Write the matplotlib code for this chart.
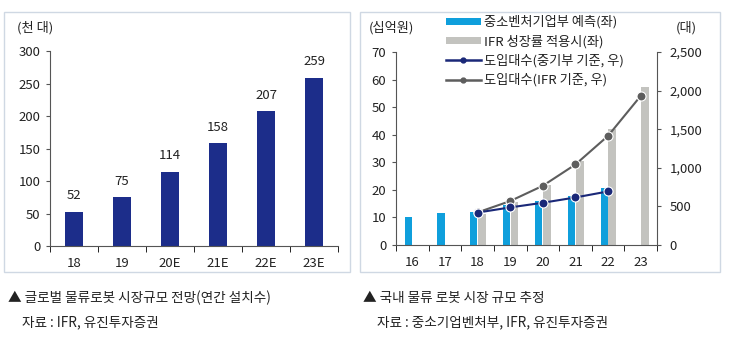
import numpy as np
import matplotlib
matplotlib.use("Agg")
import matplotlib.pyplot as plt
from matplotlib.patches import Rectangle, Patch
from matplotlib.lines import Line2D
from matplotlib.ticker import FuncFormatter

plt.rcParams['font.family'] = ['Noto Sans CJK KR', 'DejaVu Sans']
plt.rcParams['axes.unicode_minus'] = False

# left chart: global logistics robot installations (thousand units)
global_years = ['18', '19', '20E', '21E', '22E', '23E']
global_units = [52, 75, 114, 158, 207, 259]

# right chart: domestic market (KRW bn, left) and robot count (units, right)
kr_years = ['16', '17', '18', '19', '20', '21', '22', '23']
kr_mss = [10.1, 11.5, 12.0, 14.6, 15.8, 17.9, 20.6, np.nan]
kr_ifr = [np.nan, np.nan, 11.3, 15.5, 21.8, 30.5, 42.0, 57.4]
units_mss = [np.nan, np.nan, 420, 487, 547, 616, 694, np.nan]
units_ifr = [np.nan, np.nan, 422, 569, 767, 1043, 1414, 1931]

NAVY = '#1c2d8a'
SKY = '#0f9fdc'
GREY_BAR = '#c3c3bf'
NAVY_LINE = '#1a2878'
GREY_LINE = '#5d5d5d'
TXT = '#222222'
SPINE = '#555555'
FS = 9.5

fig = plt.figure(figsize=(7.3, 3.38), dpi=100)
W, H = 730, 338


def fx(px):
    return px / W


def fy(py):
    return 1 - py / H


# panel frames
for x0, x1 in [(4, 350), (360, 720)]:
    fig.patches.append(Rectangle((fx(x0), fy(272)), fx(x1 - x0), (272 - 12) / H,
                                 transform=fig.transFigure, fill=False,
                                 edgecolor='#cfd8e3', linewidth=1.0))


def style_axis(ax, spines):
    for s in ['left', 'right', 'top', 'bottom']:
        ax.spines[s].set_visible(s in spines)
        ax.spines[s].set_color(SPINE)
        ax.spines[s].set_linewidth(0.8)
    ax.tick_params(colors=SPINE, labelcolor=TXT, labelsize=FS, width=0.8)


# ---- left chart ----
ax1 = fig.add_axes([fx(50), fy(246), fx(338 - 50), (246 - 51) / H])
x1 = np.arange(len(global_years))
ax1.bar(x1, global_units, width=0.36, color=NAVY)
for xi, v in zip(x1, global_units):
    ax1.annotate(str(v), (xi, v), xytext=(0, 7), textcoords='offset points',
                 ha='center', va='bottom', fontsize=FS, color=TXT)
ax1.set_xlim(-0.5, len(global_years) - 0.5)
ax1.set_ylim(0, 300)
ax1.set_yticks(range(0, 301, 50))
ax1.set_xticks(x1)
ax1.set_xticklabels(global_years)
ax1.set_xticks(np.arange(-0.5, len(global_years)), minor=True)
style_axis(ax1, ['left', 'bottom'])
ax1.tick_params(axis='x', which='major', length=0, pad=8)
ax1.tick_params(axis='x', which='minor', length=4, direction='out')
ax1.tick_params(axis='y', length=3, direction='out', pad=4)
fig.text(fx(17), fy(28), '(천 대)', fontsize=FS, color=TXT, va='center')

# ---- right chart ----
ax2 = fig.add_axes([fx(396), fy(245), fx(657 - 396), (245 - 52) / H])
x2 = np.arange(len(kr_years))
ax2.bar(x2 - 0.12, kr_mss, width=0.22, color=SKY, zorder=2)
ax2.bar(x2 + 0.13, kr_ifr, width=0.24, color=GREY_BAR, zorder=1)
ax2.set_xlim(-0.5, len(kr_years) - 0.5)
ax2.set_ylim(0, 70)
ax2.set_yticks(range(0, 71, 10))
ax2.set_xticks(x2)
ax2.set_xticklabels(kr_years)
ax2.set_xticks(np.arange(-0.5, len(kr_years)), minor=True)
style_axis(ax2, ['left', 'bottom'])
ax2.tick_params(axis='x', which='major', length=0, pad=8)
ax2.tick_params(axis='x', which='minor', length=4, direction='out')
ax2.tick_params(axis='y', length=3, direction='out', pad=4)

ax3 = ax2.twinx()
ax3.plot(x2, units_ifr, color=GREY_LINE, lw=1.5, marker='o', ms=6.5,
         mfc=GREY_LINE, mec='white', mew=0.8, zorder=3)
ax3.plot(x2, units_mss, color=NAVY_LINE, lw=1.5, marker='o', ms=6.5,
         mfc=NAVY_LINE, mec='white', mew=0.8, zorder=4)
ax3.set_ylim(0, 2500)
ax3.set_yticks(range(0, 2501, 500))
ax3.yaxis.set_major_formatter(FuncFormatter(lambda v, p: f'{v:,.0f}'))
style_axis(ax3, ['right'])
ax3.tick_params(axis='y', length=3, direction='out', pad=6)

fig.text(fx(369), fy(28), '(십억원)', fontsize=FS, color=TXT, va='center')
fig.text(fx(676), fy(28), '(대)', fontsize=FS, color=TXT, va='center')

handles = [
    Patch(facecolor=SKY, edgecolor='none'),
    Patch(facecolor=GREY_BAR, edgecolor='none'),
    Line2D([], [], color=NAVY_LINE, lw=1.8, marker='o', ms=3.5),
    Line2D([], [], color=GREY_LINE, lw=1.8, marker='o', ms=3.5),
]
labels = ['중소벤처기업부 예측(좌)', 'IFR 성장률 적용시(좌)',
          '도입대수(중기부 기준, 우)', '도입대수(IFR 기준, 우)']
leg = fig.legend(handles, labels, loc='upper left',
                 bbox_to_anchor=(fx(445), fy(14)), frameon=True,
                 fontsize=FS, handlelength=2.6, handleheight=0.45,
                 handletextpad=0.25, labelspacing=0.45, borderpad=0.1,
                 borderaxespad=0)
leg.get_frame().set_facecolor('white')
leg.get_frame().set_edgecolor('none')
leg.get_frame().set_alpha(1)
for t in leg.get_texts():
    t.set_color(TXT)

# captions
fig.text(fx(8), fy(298), '▲ 글로벌 물류로봇 시장규모 전망(연간 설치수)', fontsize=FS + 0.3,
         color=TXT, va='center')
fig.text(fx(22), fy(322), '자료 : IFR, 유진투자증권', fontsize=FS + 0.3, color=TXT, va='center')
fig.text(fx(363), fy(298), '▲ 국내 물류 로봇 시장 규모 추정', fontsize=FS + 0.3,
         color=TXT, va='center')
fig.text(fx(377), fy(322), '자료 : 중소기업벤처부, IFR, 유진투자증권', fontsize=FS + 0.3,
         color=TXT, va='center')

fig.savefig('out.png', dpi=100)
